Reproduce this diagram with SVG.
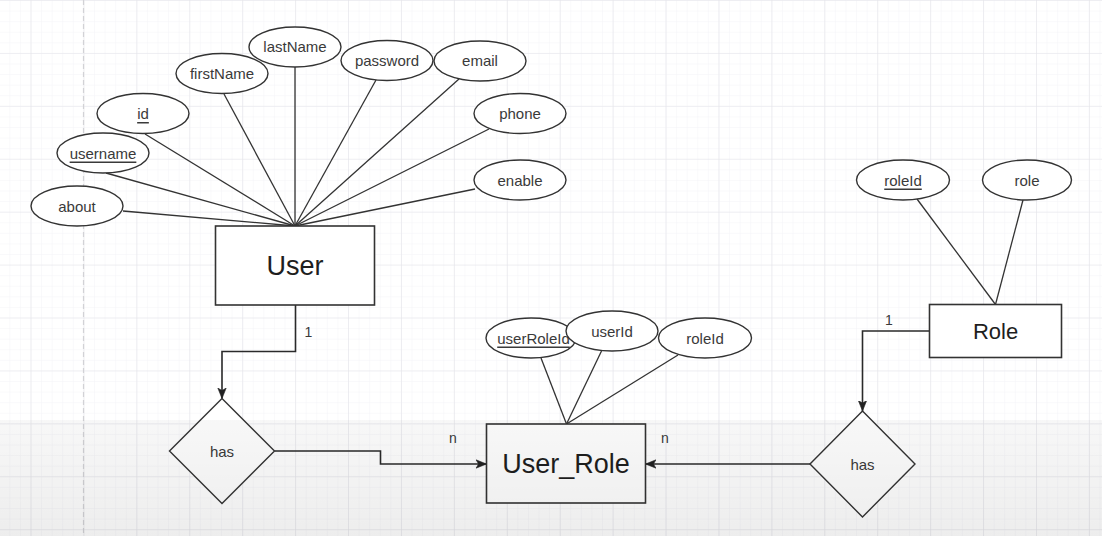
<svg xmlns="http://www.w3.org/2000/svg" width="1102" height="536" viewBox="0 0 1102 536">
<defs>
<pattern id="minor" patternUnits="userSpaceOnUse" x="30.5" y="0" width="10.584" height="10.584">
<path d="M0,0 V10.584 M0,0 H10.584" fill="none" stroke="#f4f4f7" stroke-width="1"/>
</pattern>
<pattern id="major" patternUnits="userSpaceOnUse" x="30.5" y="0" width="52.92" height="52.92">
<path d="M0,0 V52.92 M0,0 H52.92" fill="none" stroke="#e4e4e9" stroke-width="1.2"/>
</pattern>
<linearGradient id="tint" x1="0" y1="0" x2="0" y2="1">
<stop offset="0" stop-color="#000" stop-opacity="0.03"/>
<stop offset="1" stop-color="#000" stop-opacity="0.07"/>
</linearGradient>
<marker id="arrow" markerUnits="userSpaceOnUse" markerWidth="11" markerHeight="10" viewBox="0 0 11 10" refX="10.5" refY="5" orient="auto">
<path d="M0,0.8 L10.5,5 L0,9.2 L2.6,5 Z" fill="#222" stroke="#222" stroke-width="0.6" stroke-linejoin="miter"/>
</marker>
<style>
.attr ellipse{fill:#fff;stroke:#333;stroke-width:1.4}
.attr text{font-family:"Liberation Sans",Arial,sans-serif;font-size:15px;fill:#3a3a3a;text-anchor:middle;dominant-baseline:central}
.ent rect{fill:#fff;stroke:#333;stroke-width:1.6}
.ent text{font-family:"Liberation Sans",Arial,sans-serif;fill:#1e1e1e;text-anchor:middle;dominant-baseline:central}
.rel polygon{fill:#fff;stroke:#333;stroke-width:1.4}
.rel text{font-family:"Liberation Sans",Arial,sans-serif;font-size:15px;fill:#3a3a3a;text-anchor:middle;dominant-baseline:central}
.u{text-decoration:underline}
#connectors line,#connectors path{fill:none;stroke:#333;stroke-width:1.3}
#connectors .edge{stroke-width:1.6;stroke:#2a2a2a}
.num{font-family:"Liberation Sans",Arial,sans-serif;font-size:14px;fill:#3a3a3a;text-anchor:middle;dominant-baseline:central}
</style>
</defs>
<rect x="0" y="0" width="1102" height="536" fill="#fff"/>
<rect x="0" y="0" width="1102" height="536" fill="url(#minor)"/>
<rect x="0" y="0" width="1102" height="536" fill="url(#major)"/>
<line x1="83.5" y1="0" x2="83.5" y2="536" stroke="#d2d2d6" stroke-width="1.2" stroke-dasharray="5,3"/>

<g id="connectors">
<line x1="123" y1="211" x2="295" y2="226"/>
<line x1="106" y1="173" x2="295" y2="226"/>
<line x1="145" y1="134" x2="295" y2="226"/>
<line x1="224" y1="94" x2="295" y2="226"/>
<line x1="295" y1="67" x2="295" y2="226"/>
<line x1="376" y1="80" x2="295" y2="226"/>
<line x1="459" y1="79" x2="295" y2="226"/>
<line x1="489" y1="129" x2="295" y2="226"/>
<line x1="475" y1="189" x2="295" y2="226"/>
<line x1="917" y1="199" x2="995.5" y2="304.5"/>
<line x1="1023" y1="200" x2="995.5" y2="304.5"/>
<line x1="541" y1="358" x2="566.5" y2="424"/>
<line x1="601.5" y1="351" x2="566.5" y2="424"/>
<line x1="678" y1="355" x2="566.5" y2="424"/>
<path class="edge" d="M295.5,305 V351.5 H222 V398.5" marker-end="url(#arrow)"/>
<path class="edge" d="M274.5,451 H380.5 V464 H486.5" marker-end="url(#arrow)"/>
<path class="edge" d="M929.5,331 H862.5 V411" marker-end="url(#arrow)"/>
<path class="edge" d="M810,464 H645.5" marker-end="url(#arrow)"/>
<text class="num" x="308.5" y="332">1</text>
<text class="num" x="889" y="320">1</text>
<text class="num" x="453" y="438">n</text>
<text class="num" x="665" y="438">n</text>
</g>

<g id="user" class="ent"><rect x="215.5" y="226" width="159" height="79"/><text x="295" y="266" font-size="27">User</text></g>
<g id="attr-about" class="attr"><ellipse cx="77" cy="206" rx="46" ry="20"/><text x="77" y="206">about</text></g>
<g id="attr-username" class="attr"><ellipse cx="103" cy="153" rx="46" ry="20"/><text class="u" x="103" y="153">username</text></g>
<g id="attr-id" class="attr"><ellipse cx="143" cy="113.5" rx="46" ry="20"/><text class="u" x="143" y="113.5">id</text></g>
<g id="attr-firstName" class="attr"><ellipse cx="222" cy="73.5" rx="46" ry="20"/><text x="222" y="73.5">firstName</text></g>
<g id="attr-lastName" class="attr"><ellipse cx="295" cy="47" rx="46" ry="20"/><text x="295" y="46">lastName</text></g>
<g id="attr-password" class="attr"><ellipse cx="387" cy="60.5" rx="46" ry="20"/><text x="387" y="60.5">password</text></g>
<g id="attr-email" class="attr"><ellipse cx="480" cy="61" rx="46" ry="20"/><text x="480" y="60.5">email</text></g>
<g id="attr-phone" class="attr"><ellipse cx="520" cy="113.5" rx="46" ry="20"/><text x="520" y="113.5">phone</text></g>
<g id="attr-enable" class="attr"><ellipse cx="520" cy="180" rx="46" ry="20"/><text x="520" y="180">enable</text></g>

<g id="role" class="ent"><rect x="929.5" y="304.5" width="132" height="53"/><text x="995.5" y="331.5" font-size="22">Role</text></g>
<g id="attr-role-roleId" class="attr"><ellipse cx="903" cy="180" rx="46.5" ry="20"/><text class="u" x="903" y="180">roleId</text></g>
<g id="attr-role-role" class="attr"><ellipse cx="1027" cy="180" rx="44.5" ry="20"/><text x="1027" y="180">role</text></g>

<g id="user_role" class="ent"><rect x="486.5" y="424" width="159" height="79"/><text x="566" y="464" font-size="27">User_Role</text></g>
<g id="attr-userRoleId" class="attr"><ellipse cx="531" cy="338" rx="45" ry="20"/><text class="u" x="533.5" y="338">userRoleId</text></g>
<g id="attr-userId" class="attr"><ellipse cx="612" cy="331" rx="46" ry="20"/><text x="612" y="331">userId</text></g>
<g id="attr-ur-roleId" class="attr"><ellipse cx="705" cy="338" rx="46.5" ry="20"/><text x="705" y="338">roleId</text></g>

<g id="has-left" class="rel"><polygon points="222,398.5 274.5,451 222,503.5 169.5,451"/><text x="222" y="451">has</text></g>
<g id="has-right" class="rel"><polygon points="862.5,411 915,464 862.5,517 810,464"/><text x="862.5" y="464">has</text></g>

<rect x="0" y="420" width="1102" height="116" fill="url(#tint)" pointer-events="none"/>
</svg>
